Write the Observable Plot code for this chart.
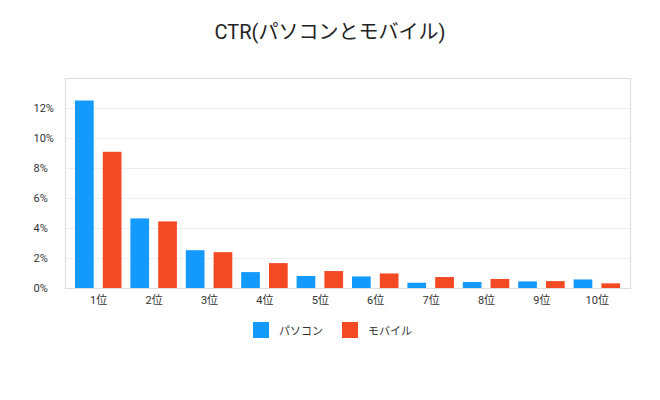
<!DOCTYPE html>
<html>
<head>
<meta charset="utf-8">
<script src="https://cdn.jsdelivr.net/npm/d3@7"></script>
<script src="https://cdn.jsdelivr.net/npm/@observablehq/plot@0.6"></script>
<style>
  body { margin: 0; background: #fff; font-family: Roboto, "Noto Sans CJK JP", sans-serif; width: 660px; }
  #title { height: 42px; padding-top: 18px; text-align: center; font-size: 20px; line-height: 28px; color: #222; }
  #legend { position: relative; height: 20px; margin-top: 12px; font-size: 11px; color: #333; }
  .item { position: absolute; top: 0; display: flex; align-items: center; }
  .sw { width: 16px; height: 16px; margin-right: 10px; }
</style>
</head>
<body>
<div id="title">CTR(パソコンとモバイル)</div>
<div id="chart"></div>
<div id="legend"></div>
<script>
const ranks = ["1位","2位","3位","4位","5位","6位","7位","8位","9位","10位"];
const pcValues = [12.5, 4.64, 2.52, 1.06, 0.8, 0.77, 0.35, 0.4, 0.44, 0.57];
const mobileValues = [9.08, 4.44, 2.39, 1.66, 1.13, 0.97, 0.73, 0.6, 0.46, 0.31];
const seriesNames = ["パソコン", "モバイル"];
const seriesColors = ["#1499fc", "#f44a24"];
const yTicks = [0, 2, 4, 6, 8, 10, 12];

const pcData = ranks.map((r, i) => ({rank: r, value: pcValues[i]}));
const mobileData = ranks.map((r, i) => ({rank: r, value: mobileValues[i]}));

const chart = Plot.plot({
  width: 660,
  height: 250,
  marginTop: 18,
  marginBottom: 22,
  marginLeft: 65,
  marginRight: 30,
  style: {fontFamily: "Roboto, Noto Sans CJK JP, sans-serif", fontSize: "11px", color: "#333"},
  x: {type: "band", domain: ranks, padding: 0, inset: 5.5, round: false, label: null},
  y: {domain: [0, 14], label: null},
  marks: [
    Plot.gridY(yTicks, {stroke: "#eee", strokeOpacity: 1}),
    Plot.barY(pcData, {x: "rank", y: "value", fill: seriesColors[0], insetLeft: 4.5, insetRight: 32.2}),
    Plot.barY(mobileData, {x: "rank", y: "value", fill: seriesColors[1], insetLeft: 32.3, insetRight: 4.4}),
    Plot.frame({stroke: "#ddd"}),
    Plot.axisY(yTicks, {tickSize: 0, tickPadding: 0, textAnchor: "start", dx: -32, tickFormat: d => d + "%", fill: "#333"}),
    Plot.axisX({tickSize: 0, tickPadding: 8, fill: "#333"})
  ]
});
document.getElementById("chart").appendChild(chart);

const legend = document.getElementById("legend");
const legendLeft = [253, 342];
seriesNames.forEach((name, i) => {
  const item = document.createElement("div");
  item.className = "item";
  item.style.left = legendLeft[i] + "px";
  const sw = document.createElement("div");
  sw.className = "sw";
  sw.style.background = seriesColors[i];
  const label = document.createElement("span");
  label.textContent = name;
  item.appendChild(sw);
  item.appendChild(label);
  legend.appendChild(item);
});
</script>
</body>
</html>
